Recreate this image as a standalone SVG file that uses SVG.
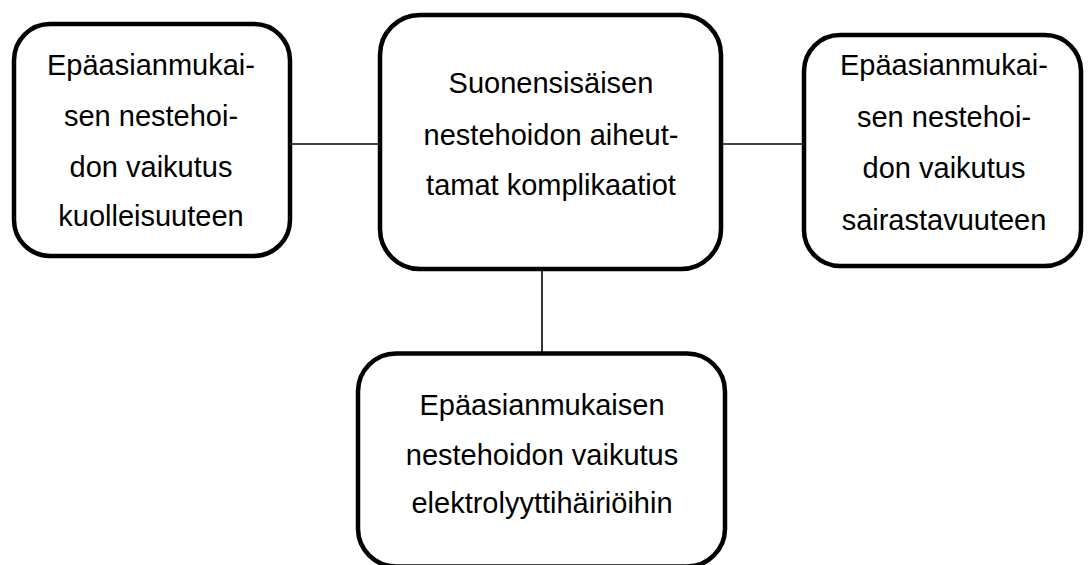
<svg xmlns="http://www.w3.org/2000/svg" width="1088" height="565" viewBox="0 0 1088 565">
  <style>
    .box { fill: #ffffff; stroke: #000000; stroke-width: 4.5; }
    .link { stroke: #000000; stroke-width: 1.6; fill: none; }
    .label { font-family: "Liberation Sans", Arial, sans-serif; font-size: 29px; fill: #000000; text-anchor: middle; }
  </style>
  <rect width="1088" height="565" fill="#ffffff"/>

  <g id="connectors">
    <line class="link" x1="290" y1="144" x2="380" y2="144"/>
    <line class="link" x1="721" y1="144" x2="804" y2="144"/>
    <line class="link" x1="542" y1="269" x2="542" y2="353"/>
  </g>

  <g id="node-mortality">
    <rect class="box" x="14" y="24" width="276" height="232" rx="36" ry="36"/>
    <text class="label" x="151" y="75">Epäasianmukai-</text>
    <text class="label" x="151" y="126">sen nestehoi-</text>
    <text class="label" x="151" y="177">don vaikutus</text>
    <text class="label" x="151" y="226">kuolleisuuteen</text>
  </g>

  <g id="node-complications">
    <rect class="box" x="380" y="15" width="341" height="254" rx="40" ry="40"/>
    <text class="label" x="551" y="93">Suonensisäisen</text>
    <text class="label" x="551" y="145">nestehoidon aiheut-</text>
    <text class="label" x="551" y="195">tamat komplikaatiot</text>
  </g>

  <g id="node-morbidity">
    <rect class="box" x="804" y="35" width="277" height="231" rx="36" ry="36"/>
    <text class="label" x="944" y="75">Epäasianmukai-</text>
    <text class="label" x="944" y="127">sen nestehoi-</text>
    <text class="label" x="944" y="178">don vaikutus</text>
    <text class="label" x="944" y="230">sairastavuuteen</text>
  </g>

  <g id="node-electrolytes">
    <rect class="box" x="358" y="353.5" width="367" height="213" rx="38" ry="38"/>
    <text class="label" x="542" y="415">Epäasianmukaisen</text>
    <text class="label" x="542" y="465">nestehoidon vaikutus</text>
    <text class="label" x="542" y="513">elektrolyyttihäiriöihin</text>
  </g>
</svg>
